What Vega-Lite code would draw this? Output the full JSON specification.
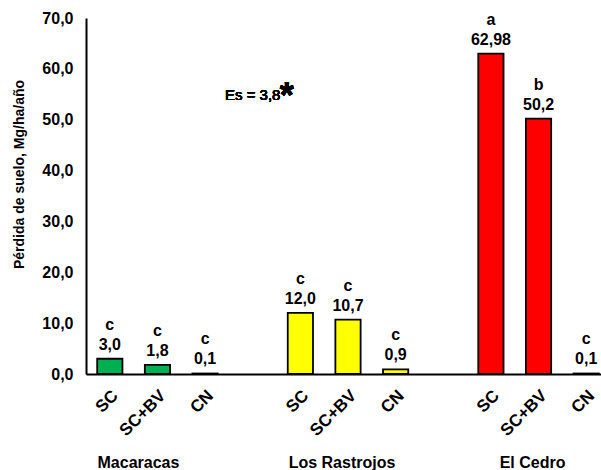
{
  "$schema": "https://vega.github.io/schema/vega-lite/v6.json",
  "width": 515,
  "height": 356,
  "autosize": {"type": "none"},
  "padding": {"left": 86, "top": 18, "right": 0, "bottom": 96},
  "background": "white",
  "config": {"view": {"stroke": null}, "font": "Liberation Sans"},
  "data": {
    "values": [
      {"slot": "Macaracas|SC", "sitio": "Macaracas", "perdida": 3.0, "letra": "c", "lbl": "3,0"},
      {"slot": "Macaracas|SC+BV", "sitio": "Macaracas", "perdida": 1.8, "letra": "c", "lbl": "1,8"},
      {"slot": "Macaracas|CN", "sitio": "Macaracas", "perdida": 0.1, "letra": "c", "lbl": "0,1"},
      {"slot": "Los Rastrojos|SC", "sitio": "Los Rastrojos", "perdida": 12.0, "letra": "c", "lbl": "12,0"},
      {"slot": "Los Rastrojos|SC+BV", "sitio": "Los Rastrojos", "perdida": 10.7, "letra": "c", "lbl": "10,7"},
      {"slot": "Los Rastrojos|CN", "sitio": "Los Rastrojos", "perdida": 0.9, "letra": "c", "lbl": "0,9"},
      {"slot": "El Cedro|SC", "sitio": "El Cedro", "perdida": 62.98, "letra": "a", "lbl": "62,98"},
      {"slot": "El Cedro|SC+BV", "sitio": "El Cedro", "perdida": 50.2, "letra": "b", "lbl": "50,2"},
      {"slot": "El Cedro|CN", "sitio": "El Cedro", "perdida": 0.1, "letra": "c", "lbl": "0,1"}
    ]
  },
  "layer": [
    {
      "mark": {"type": "bar", "stroke": "#000000", "strokeWidth": 1.8},
      "encoding": {
        "x": {
          "field": "slot", "type": "nominal", "title": null,
          "scale": {
            "domain": ["Macaracas|SC", "Macaracas|SC+BV", "Macaracas|CN", "gap1", "Los Rastrojos|SC", "Los Rastrojos|SC+BV", "Los Rastrojos|CN", "gap2", "El Cedro|SC", "El Cedro|SC+BV", "El Cedro|CN"],
            "range": [0, 524], "paddingInner": 0.47, "paddingOuter": 0.235
          },
          "axis": {
            "labelExpr": "indexof(datum.value, '|') > 0 ? split(datum.value, '|')[1] : ''",
            "labelAngle": -45, "labelFontSize": 17, "labelFontWeight": "bold", "labelColor": "#000000",
            "ticks": false, "tickSize": 0, "labelPadding": 13, "labelOverlap": false,
            "domainColor": "#000000", "domainWidth": 2, "grid": false
          }
        },
        "y": {
          "field": "perdida", "type": "quantitative",
          "scale": {"domain": [0, 70]},
          "axis": {
            "values": [0, 10, 20, 30, 40, 50, 60, 70],
            "labelExpr": "replace(format(datum.value, '.1f'), '.', ',')",
            "grid": false, "ticks": false, "tickSize": 0, "labelPadding": 13,
            "labelFontSize": 16, "labelFontWeight": "bold", "labelColor": "#000000",
            "domainColor": "#000000", "domainWidth": 2,
            "title": "Pérdida de suelo, Mg/ha/año", "titleFontSize": 14, "titleFontWeight": "bold",
            "titleColor": "#000000", "titleX": -67, "titleY": 156, "titleAlign": "center", "titleBaseline": "middle", "titleAngle": -90
          }
        },
        "color": {
          "field": "sitio", "type": "nominal", "legend": null,
          "scale": {"domain": ["Macaracas", "Los Rastrojos", "El Cedro"], "range": ["#00B050", "#FFFF00", "#FF0000"]}
        }
      }
    },
    {
      "mark": {"type": "text", "baseline": "alphabetic", "dy": -9, "fontSize": 16, "fontWeight": "bold", "color": "#000000"},
      "encoding": {
        "x": {
          "field": "slot", "type": "nominal", "title": null,
          "axis": {
            "orient": "bottom",
            "labelExpr": "indexof(datum.value, 'SC+BV') > 0 ? split(datum.value, '|')[0] : ''",
            "labelAngle": 0, "labelFontSize": 16, "labelFontWeight": "bold", "labelColor": "#000000",
            "ticks": false, "tickSize": 0, "domain": false, "grid": false,
            "labelPadding": 80, "labelBaseline": "top", "labelOverlap": false, "labelBound": false,
            "labelOffset": {"condition": {"test": "datum.value === 'Macaracas|SC+BV'", "value": -19}, "value": -6}
          }
        },
        "y": {"field": "perdida", "type": "quantitative"},
        "text": {"field": "lbl"}
      }
    },
    {
      "mark": {"type": "text", "baseline": "alphabetic", "dy": -29, "fontSize": 16, "fontWeight": "bold", "color": "#000000"},
      "encoding": {
        "x": {"field": "slot", "type": "nominal", "axis": null},
        "y": {"field": "perdida", "type": "quantitative"},
        "text": {"field": "letra"}
      }
    },
    {
      "mark": {"type": "text", "fontSize": 15, "align": "center", "baseline": "alphabetic", "color": "#000000"},
      "encoding": {
        "x": {"datum": "gap1", "axis": null},
        "y": {"datum": 53.9},
        "text": {"value": "Es = 3,8"}
      }
    },
    {
      "mark": {"type": "text", "fontSize": 36, "fontWeight": "bold", "align": "left", "baseline": "alphabetic", "dx": 27, "color": "#000000"},
      "encoding": {
        "x": {"datum": "gap1", "axis": null},
        "y": {"datum": 52.3},
        "text": {"value": "*"}
      }
    }
  ],
  "resolve": {"axis": {"x": "independent"}}
}
